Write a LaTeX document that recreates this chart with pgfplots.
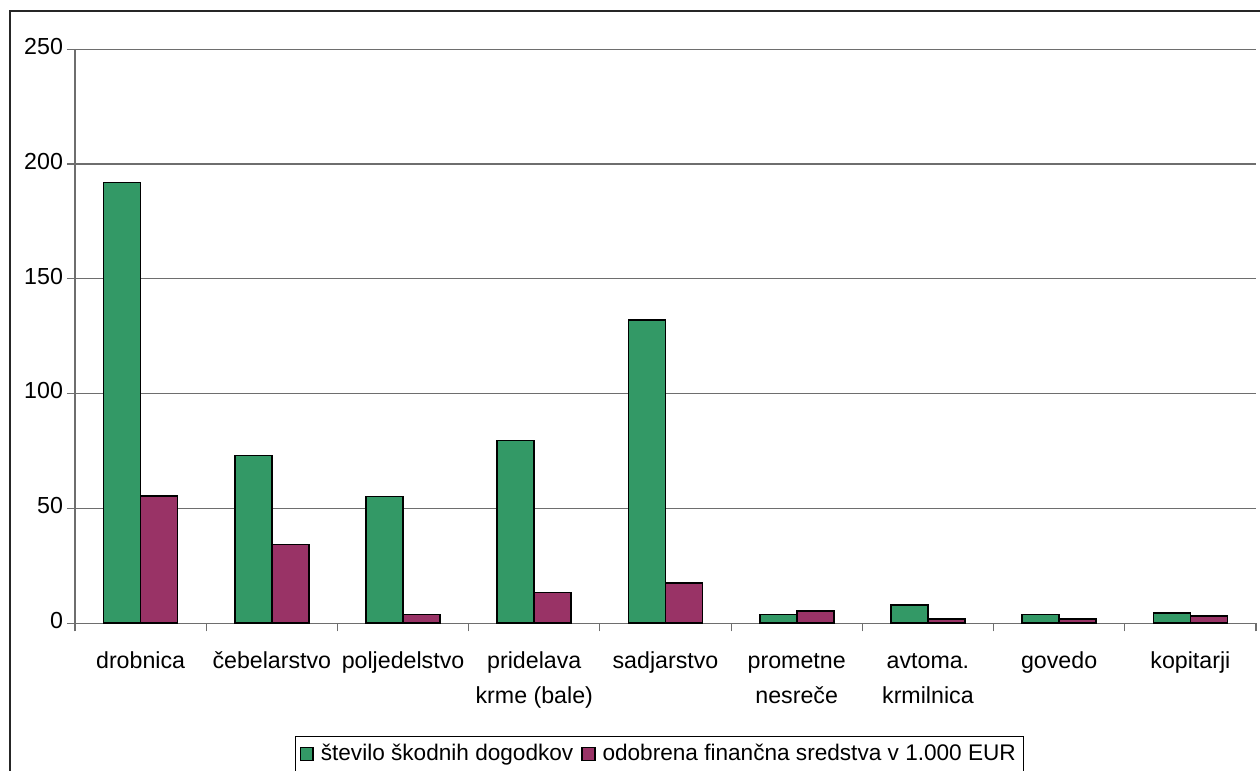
\documentclass[border=0pt]{standalone}
\usepackage{pgfplots}
\pgfplotsset{compat=1.18}
\usepackage{fontspec}
\setmainfont{Liberation Sans}
\definecolor{skode}{RGB}{51,153,102}
\definecolor{sredstva}{RGB}{153,51,102}
\definecolor{mreza}{RGB}{110,110,110}

\begin{document}
\begin{tikzpicture}
\useasboundingbox (-37.5pt,-73.85pt) rectangle (592.5pt,311.65pt);
% okvir grafikona (levo in zgoraj)
\draw[line width=0.8pt, black!85] (-32.5pt,-73.85pt) -- (-32.5pt,306.15pt) -- (592.5pt,306.15pt);
\begin{axis}[
  at={(0pt,0pt)}, anchor=south west,
  scale only axis, width=590.5pt, height=287pt,
  ybar=0pt, bar width=0.282,
  xmin=-0.5, xmax=8.5, ymin=0, ymax=250,
  ytick={0,50,...,250},
  xtick={0,...,8},
  xticklabels={drobnica, čebelarstvo, poljedelstvo, {pridelava\\krme (bale)}, sadjarstvo, {prometne\\nesreče}, {avtoma.\\krmilnica}, govedo, kopitarji},
  minor xtick={-0.5,0.5,...,8.5},
  axis x line*=bottom, axis y line*=left,
  axis line style={mreza, line width=0.6pt},
  tick align=outside,
  major tick length=4pt, minor tick length=4pt,
  tick style={mreza, line width=0.6pt},
  major x tick style={draw=none},
  ymajorgrids, grid style={mreza, line width=0.6pt},
  typeset ticklabels with strut,
  xticklabel style={align=center, font={\fontsize{11.6}{17.5}\selectfont}, yshift=-3pt},
  yticklabel style={font=\fontsize{11.6}{13}\selectfont, xshift=1.5pt},
  /pgf/number format/assume math mode=true,
  legend style={at={(0.1863,-0.196)}, anchor=north west, legend columns=2,
    draw=black, line width=0.6pt, font=\fontsize{11.3}{13}\selectfont,
    inner xsep=2pt,
    /tikz/every odd column/.append style={column sep=1.5pt},
    /tikz/every even column/.append style={column sep=2pt}},
  legend image code/.code={\draw[#1, draw=black, line width=0.7pt] (0pt,-3.2pt) rectangle (6.4pt,3.2pt);},
]
\addplot[fill=skode, draw=black, line width=0.8pt]
  coordinates {(0,192) (1,73) (2,55.3) (3,79.6) (4,132) (5,3.9) (6,8) (7,3.9) (8,4.6)};
\addplot[fill=sredstva, draw=black, line width=0.8pt]
  coordinates {(0,55.5) (1,34.3) (2,3.9) (3,13.5) (4,17.5) (5,5.3) (6,2) (7,2) (8,3.2)};
\legend{število škodnih dogodkov, odobrena finančna sredstva v 1.000 EUR}
\end{axis}
\end{tikzpicture}
\end{document}
